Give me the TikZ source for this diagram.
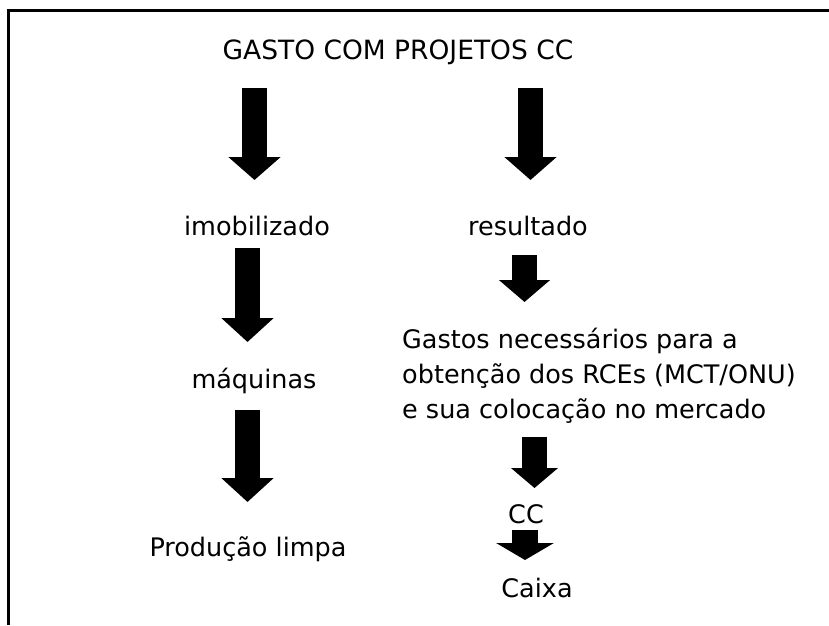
\documentclass[tikz,border=0pt]{standalone}
\usepackage{fontspec}
\setmainfont{DejaVu Sans}
\usepackage{tikz}
\usetikzlibrary{arrows.meta,positioning}

\begin{document}
\begin{tikzpicture}[
  x=1pt,y=-1pt,
  txt/.style={inner sep=0pt,font=\fontsize{25.5pt}{35pt}\selectfont},
  blk/.style 2 args={line width=25pt,-{Triangle[length=#1,width=#2]}},
  frame/.style={line width=3pt}
]
\useasboundingbox (0,0) rectangle (829,625);
% open frame (top and left only)
\draw[frame] (829,10) -- (8,10) -- (8,625);

% texts
\node[txt,anchor=base,font=\fontsize{26.5pt}{35pt}\selectfont] (tit) at (398,59) {GASTO COM PROJETOS CC};
\node[txt,anchor=base] (imob) at (257,235) {imobilizado};
\node[txt,anchor=base] (maq)  at (254,388) {máquinas};
\node[txt,anchor=base] (prod) at (248,556) {Produção limpa};
\node[txt,anchor=base] (res)  at (528,235) {resultado};
\node[txt,anchor=base west,align=left] (gastos) at (402,418)
  {Gastos necessários para a\\obtenção dos RCEs (MCT/ONU)\\e sua colocação no mercado};
\node[txt,anchor=base] (cc)    at (526,523) {CC};
\node[txt,anchor=base] (caixa) at (537,597) {Caixa};

% arrow ends
\coordinate (l1s) at (254.5,88);  \coordinate (l1e) at (254.5,180);
\coordinate (l2s) at (247.5,248); \coordinate (l2e) at (247.5,342);
\coordinate (l3s) at (247.5,410); \coordinate (l3e) at (247.5,502);
\coordinate (r1s) at (530.5,88);  \coordinate (r1e) at (530.5,180);
\coordinate (r2s) at (524.5,255); \coordinate (r2e) at (524.5,302);
\coordinate (r3s) at (534.5,437); \coordinate (r3e) at (534.5,488);
\coordinate (r4s) at (525,530);   \coordinate (r4e) at (525,560);

% left column
\draw[blk={23pt}{51pt}] (l1s) -- (l1e);
\draw[blk={24pt}{51pt}] (l2s) -- (l2e);
\draw[blk={24pt}{51pt}] (l3s) -- (l3e);
% right column
\draw[blk={23pt}{51pt}] (r1s) -- (r1e);
\draw[blk={22pt}{50pt}] (r2s) -- (r2e);
\draw[blk={20pt}{46pt}] (r3s) -- (r3e);
\draw[blk={17pt}{57pt},line width=26pt] (r4s) -- (r4e);
\end{tikzpicture}
\end{document}
